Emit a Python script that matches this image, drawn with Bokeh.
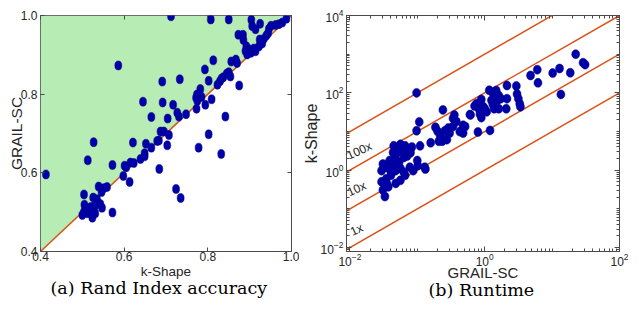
from bokeh.plotting import figure
from bokeh.layouts import row
from bokeh.models import (LinearAxis, LogAxis, FixedTicker, PrintfTickFormatter,
                          Range1d, ColumnDataSource, CustomJSTickFormatter)
from bokeh.core.properties import value
from bokeh.embed import file_html
from bokeh.resources import INLINE

# ---------------- data: (a) Rand Index accuracy ----------------
kshape_ri = [0.712, 0.807, 0.850, 0.904, 0.906, 0.914, 0.925, 0.951, 0.962, 0.970,
             0.978, 0.988, 0.946, 0.944, 0.940, 0.934, 0.926, 0.873, 0.884, 0.885,
             0.924, 0.930, 0.892, 0.898, 0.890, 0.910, 0.903, 0.894, 0.922, 0.914,
             0.586, 0.813, 0.793, 0.856, 0.867, 0.870, 0.850, 0.854, 0.833, 0.829,
             0.823, 0.691, 0.733, 0.802, 0.875, 0.782, 0.772, 0.785, 0.775, 0.809,
             0.794, 0.645, 0.692, 0.717, 0.727, 0.731, 0.748, 0.665, 0.704, 0.842,
             0.687, 0.695, 0.707, 0.802, 0.527, 0.621, 0.652, 0.679, 0.665, 0.703,
             0.778, 0.649, 0.832, 0.413, 0.513, 0.572, 0.601, 0.605, 0.615, 0.623,
             0.639, 0.649, 0.598, 0.613, 0.684, 0.724, 0.735, 0.539, 0.551, 0.559,
             0.504, 0.546, 0.526, 0.535, 0.505, 0.520, 0.531, 0.543, 0.547, 0.504,
             0.512, 0.500, 0.524, 0.531, 0.524, 0.572, 0.515, 0.837, 0.845, 0.774,
             0.773, 0.683]
grail_ri = [0.998, 0.990, 0.990, 0.989, 0.973, 0.965, 0.979, 0.974, 0.976, 0.978,
            0.982, 0.992, 0.966, 0.955, 0.949, 0.941, 0.933, 0.951, 0.951, 0.938,
            0.939, 0.929, 0.922, 0.914, 0.910, 0.916, 0.905, 0.901, 0.921, 0.909,
            0.873, 0.886, 0.863, 0.883, 0.888, 0.879, 0.856, 0.845, 0.840, 0.833,
            0.824, 0.832, 0.838, 0.834, 0.822, 0.813, 0.791, 0.793, 0.783, 0.787,
            0.773, 0.781, 0.779, 0.773, 0.753, 0.743, 0.749, 0.742, 0.738, 0.743,
            0.705, 0.705, 0.696, 0.698, 0.678, 0.677, 0.674, 0.681, 0.664, 0.670,
            0.664, 0.650, 0.648, 0.596, 0.632, 0.620, 0.618, 0.614, 0.626, 0.625,
            0.635, 0.642, 0.592, 0.577, 0.610, 0.559, 0.536, 0.565, 0.561, 0.564,
            0.545, 0.551, 0.537, 0.533, 0.519, 0.513, 0.517, 0.521, 0.511, 0.501,
            0.497, 0.493, 0.491, 0.497, 0.486, 0.499, 0.509, 0.843, 0.852, 0.799,
            0.763, 0.682]
ri_limits = [0.4, 1.0]
ri_ticks = [0.4, 0.6, 0.8, 1.0]

# ---------------- data: (b) Runtime (seconds) ----------------
grail_rt = [0.0977, 0.107, 0.0977, 0.240, 0.355, 0.339, 0.186, 0.200, 0.219, 0.257,
            0.275, 0.302, 0.288, 0.339, 0.234, 0.479, 0.513, 0.479, 0.603, 0.794,
            0.708, 0.759, 0.832, 0.891, 0.955, 0.851, 0.891, 1.0, 1.07, 1.17,
            1.32, 1.48, 1.62, 1.74, 1.55, 1.32, 1.38, 1.62, 2.14, 2.14,
            2.09, 1.20, 2.95, 3.02, 3.16, 3.31, 3.39, 4.79, 6.03, 6.17,
            10.2, 12.9, 13.5, 18.6, 22.4, 28.8, 30.9, 0.0447, 0.0513, 0.0562,
            0.0661, 0.0741, 0.0832, 0.110, 0.0603, 0.0437, 0.158, 0.209, 0.427, 0.0309,
            0.0347, 0.0295, 0.0389, 0.0437, 0.0479, 0.0537, 0.0631, 0.0708, 0.0776, 0.0871,
            0.0479, 0.0407, 0.0347, 0.0295, 0.0372, 0.0309, 0.0331, 0.0479, 0.0562, 0.0661,
            0.129, 0.102, 0.132, 0.380, 0.269, 0.617, 1.26, 0.0398, 0.0562, 0.0631,
            0.0355, 0.0501, 0.0794, 0.100]
kshape_rt = [100, 17.8, 10.5, 36.3, 26.9, 21.9, 12.9, 10.2, 7.94, 10.5,
             6.17, 9.12, 12.3, 13.5, 5.62, 14.5, 13.5, 9.12, 27.5, 9.77,
             45.7, 52.5, 37.2, 67.6, 43.7, 28.2, 22.9, 38.9, 32.4, 117,
             100, 115, 85.1, 70.8, 64.6, 50.1, 38.9, 38.9, 155, 70.8,
             38.9, 10.7, 151, 93.3, 70.8, 52.5, 43.7, 282, 398, 182,
             324, 427, 91.2, 331, 1000, 603, 537, 4.27, 3.80, 4.68,
             4.27, 3.47, 3.98, 4.27, 3.16, 2.88, 5.13, 5.62, 10.0, 1.45,
             1.20, 0.977, 1.78, 1.45, 1.95, 1.58, 2.14, 2.34, 1.20, 0.977,
             0.977, 0.741, 0.603, 0.501, 0.372, 0.309, 0.209, 0.457, 0.550, 0.741,
             1.20, 1.32, 1.07, 18.2, 10.0, 26.9, 64.6, 1.0, 1.12, 0.891,
             0.447, 2.82, 2.82, 1.78]
speedup_ratios = [1, 10, 100, 1000]
ratio_labels = ["1x", "10x", "100x"]
rt_xticks = [1e-2, 1e0, 1e2]
rt_yticks = [1e-2, 1e0, 1e2, 1e4]

# ---------------- styles ----------------
SANS = "Liberation Sans"
SERIF = "DejaVu Serif"
DARK = "#262626"
BLUE_FILL = "#0000a8"
BLUE_LINE = "#00008a"
ORANGE = "#d95319"
GREEN = "#b7ecb4"
FRAME = "#4a4a4a"


def style_axis(ax, labels=True, tick_in=4, minor_in=0):
    ax.axis_line_color = None
    ax.major_tick_in = tick_in
    ax.major_tick_out = 0
    ax.minor_tick_in = minor_in
    ax.minor_tick_out = 0
    ax.major_tick_line_color = FRAME
    ax.minor_tick_line_color = FRAME
    ax.major_label_text_font = SANS
    ax.major_label_text_color = DARK
    ax.major_label_text_font_size = "12px"
    ax.axis_label_text_font = SANS
    ax.axis_label_text_font_style = "normal"
    ax.axis_label_text_color = DARK
    if not labels:
        ax.formatter = CustomJSTickFormatter(code="return ''")
        ax.major_label_text_font_size = "0px"
        ax.major_label_standoff = 0
        ax.axis_label_standoff = 0


def style_caption(p, text, offset, standoff):
    p.title.text = text
    p.title_location = "below"
    p.title.align = "left"
    p.title.offset = offset
    p.title.standoff = standoff
    p.title.text_font = SERIF
    p.title.text_font_size = "17.5px"
    p.title.text_font_style = "normal"
    p.title.text_color = "black"


# ---------------- (a) ----------------
p1 = figure(width=299, height=307, output_backend="svg", toolbar_location=None,
            x_range=Range1d(*ri_limits), y_range=Range1d(*ri_limits),
            min_border_left=40, min_border_right=8, min_border_top=12, min_border_bottom=52)
p1.grid.visible = False
p1.outline_line_color = FRAME
p1.outline_line_width = 1
lo, hi = ri_limits
p1.patch(x=[lo, lo, hi], y=[lo, hi, hi], fill_color=GREEN, line_color=None)
p1.line(x=ri_limits, y=ri_limits, line_color=ORANGE, line_width=1.5)
src1 = ColumnDataSource(dict(x=kshape_ri, y=grail_ri))
p1.ellipse(x="x", y="y", width=7, height=9, width_units="screen", height_units="screen",
           fill_color=BLUE_FILL, line_color=BLUE_LINE, line_width=0.5, source=src1)

for ax in (p1.xaxis[0], p1.yaxis[0]):
    style_axis(ax)
    ax.ticker = FixedTicker(ticks=ri_ticks)
    ax.formatter = PrintfTickFormatter(format="%.1f")
p1.xaxis[0].axis_label = "k-Shape"
p1.xaxis[0].axis_label_text_font_size = "13.5px"
p1.xaxis[0].major_label_standoff = 0
p1.xaxis[0].axis_label_standoff = 0
p1.yaxis[0].axis_label = "GRAIL-SC"
p1.yaxis[0].axis_label_text_font_size = "15.5px"
p1.yaxis[0].major_label_standoff = 3
p1.yaxis[0].axis_label_standoff = -7

ax_r = LinearAxis(ticker=FixedTicker(ticks=ri_ticks))
style_axis(ax_r, labels=False)
p1.add_layout(ax_r, "right")
ax_t = LinearAxis(ticker=FixedTicker(ticks=ri_ticks))
style_axis(ax_t, labels=False)
p1.add_layout(ax_t, "above")
style_caption(p1, "(a) Rand Index accuracy", 10, -11)

# ---------------- (b) ----------------
p2 = figure(width=332, height=307, output_backend="svg", toolbar_location=None,
            x_axis_type="log", y_axis_type="log",
            x_range=Range1d(10 ** -2.05, 1e2), y_range=Range1d(10 ** -2.1, 1e4),
            min_border_left=42, min_border_right=12, min_border_top=15, min_border_bottom=56)
p2.grid.visible = False
p2.outline_line_color = FRAME
p2.outline_line_width = 1

x_ends = [10 ** -2.2, 1e2]
for r in speedup_ratios:
    p2.line(x=x_ends, y=[r * v for v in x_ends], line_color=ORANGE, line_width=1.5)

src2 = ColumnDataSource(dict(x=grail_rt, y=kshape_rt))
p2.ellipse(x="x", y="y", width=8, height=9, width_units="screen", height_units="screen",
           fill_color=BLUE_FILL, line_color=BLUE_LINE, line_width=0.5, source=src2)

p2.text(x=[0.0126, 0.0126, 0.0138], y=[0.029, 0.33, 3.2], text=ratio_labels,
        angle=0.42, text_font=value(SANS), text_font_size="12px",
        text_align="center", text_baseline="middle", text_color=DARK)

minor = [k * 10.0 ** d for d in range(-3, 5) for k in range(1, 10)]
style_axis(p2.xaxis[0], tick_in=5, minor_in=3)
p2.xaxis[0].ticker = FixedTicker(ticks=rt_xticks, minor_ticks=minor)
p2.xaxis[0].axis_label = "GRAIL-SC"
p2.xaxis[0].axis_label_text_font_size = "15px"
p2.xaxis[0].major_label_standoff = 1
p2.xaxis[0].axis_label_standoff = -5
style_axis(p2.yaxis[0], tick_in=5, minor_in=3)
p2.yaxis[0].ticker = FixedTicker(ticks=rt_yticks, minor_ticks=minor)
p2.yaxis[0].axis_label = "k-Shape"
p2.yaxis[0].axis_label_text_font_size = "16px"
p2.yaxis[0].major_label_standoff = 3
p2.yaxis[0].axis_label_standoff = -2

ax2_r = LogAxis(ticker=FixedTicker(ticks=rt_yticks, minor_ticks=minor))
style_axis(ax2_r, labels=False, tick_in=5, minor_in=3)
p2.add_layout(ax2_r, "right")
ax2_t = LogAxis(ticker=FixedTicker(ticks=rt_xticks, minor_ticks=minor))
style_axis(ax2_t, labels=False, tick_in=5, minor_in=3)
p2.add_layout(ax2_t, "above")
style_caption(p2, "(b) Runtime", 82, -11)

layout = row(p1, p2)
open("out.html", "w").write(file_html(layout, INLINE))
